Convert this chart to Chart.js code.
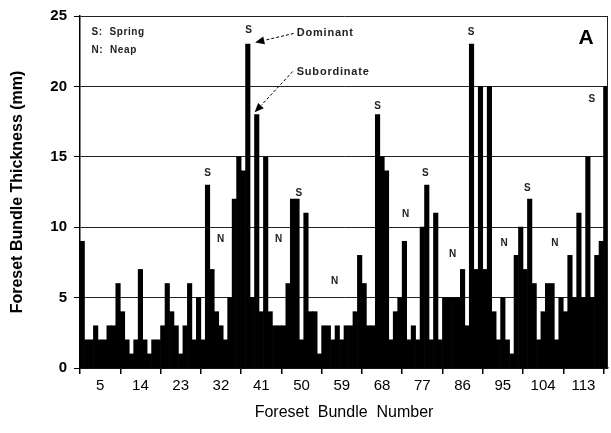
<!DOCTYPE html>
<html>
<head>
<meta charset="utf-8">
<script src="https://cdn.jsdelivr.net/npm/chart.js@4.4.1/dist/chart.umd.min.js"></script>
<style>
  html, body { margin: 0; padding: 0; background: #fff; }
</style>
</head>
<body>
<canvas id="bundleChart" width="611" height="433"></canvas>
<script>
// foreset bundle thickness (mm), bundles 1..118
const bundleNumbers = Array.from({ length: 118 }, (_, i) => i + 1);
const thickness = [
    9, 2, 2, 3, 2, 2, 3, 3, 6,
    4, 2, 1, 2, 7, 2, 1, 2, 2,
    3, 6, 4, 3, 1, 3, 6, 2, 5,
    2, 13, 7, 4, 3, 2, 5, 12, 15,
    14, 23, 5, 18, 4, 15, 4, 3, 3,
    3, 6, 12, 12, 2, 11, 4, 4, 1,
    3, 3, 2, 3, 2, 3, 3, 4, 8,
    6, 3, 3, 18, 15, 14, 2, 4, 5,
    9, 2, 3, 2, 10, 13, 2, 11, 2,
    5, 5, 5, 5, 7, 3, 23, 7, 20,
    7, 20, 4, 2, 5, 2, 1, 8, 10,
    7, 12, 6, 2, 4, 6, 6, 2, 5,
    4, 8, 5, 11, 5, 15, 5, 8, 9, 20
];
const xTickLabels = ['5', '14', '23', '32', '41', '50', '59', '68', '77', '86', '95', '104', '113'];
const yTickValues = [0, 5, 10, 15, 20, 25];

// tide labels, placed in data units (bar index, mm)
const springMarks = [[37.2, 23.97], [28.0, 13.83], [48.4, 12.41], [66.0, 18.58],
                     [76.7, 13.83], [86.9, 23.83], [99.5, 12.77], [113.9, 19.08]];
const neapMarks = [[30.9, 9.15], [43.9, 9.15], [56.4, 6.17], [72.25, 10.92],
                   [82.8, 8.09], [94.3, 8.87], [105.65, 8.87]];

const FONT = "'Liberation Sans', Arial, sans-serif";

const annotate = {
    id: 'annotate',
    afterDatasetsDraw(chart) {
        const { ctx, chartArea: a, scales: { x, y } } = chart;
        const px = v => x.getPixelForValue(v);
        const py = v => y.getPixelForValue(v);

        ctx.save();
        // right frame line
        ctx.strokeStyle = '#222';
        ctx.lineWidth = 1;
        ctx.beginPath();
        ctx.moveTo(Math.round(a.right) - 0.5, a.top);
        ctx.lineTo(Math.round(a.right) - 0.5, a.bottom);
        ctx.stroke();

        ctx.fillStyle = '#222';
        ctx.textAlign = 'center';
        ctx.textBaseline = 'middle';
        ctx.font = 'bold 10px ' + FONT;
        springMarks.forEach(([i, v]) => ctx.fillText('S', px(i), py(v)));
        neapMarks.forEach(([i, v]) => ctx.fillText('N', px(i), py(v)));

        ctx.textAlign = 'left';
        ctx.letterSpacing = '0.6px';
        ctx.fillText('S:  Spring', px(2.07), py(23.83));
        ctx.fillText('N:  Neap', px(2.07), py(22.55));
        ctx.font = 'bold 11px ' + FONT;
        ctx.letterSpacing = '0.8px';
        ctx.fillText('Dominant', px(47.93), py(23.76));
        ctx.fillText('Subordinate', px(47.93), py(20.99));
        ctx.letterSpacing = '0px';

        ctx.font = 'bold 21px ' + FONT;
        ctx.textAlign = 'center';
        ctx.fillStyle = '#000';
        ctx.fillText('A', px(112.6), py(23.4));

        const arrow = (x0, y0, x1, y1) => {
            const sx = px(x0), sy = py(y0), tx = px(x1), ty = py(y1);
            const ang = Math.atan2(ty - sy, tx - sx);
            const head = 10;
            ctx.strokeStyle = '#000';
            ctx.lineWidth = 1;
            ctx.setLineDash([3, 2]);
            ctx.beginPath();
            ctx.moveTo(sx, sy);
            ctx.lineTo(tx - Math.cos(ang) * head, ty - Math.sin(ang) * head);
            ctx.stroke();
            ctx.setLineDash([]);
            ctx.beginPath();
            ctx.moveTo(tx, ty);
            ctx.lineTo(tx - Math.cos(ang - 0.4) * head, ty - Math.sin(ang - 0.4) * head);
            ctx.lineTo(tx - Math.cos(ang + 0.4) * head, ty - Math.sin(ang + 0.4) * head);
            ctx.closePath();
            ctx.fill();
        };
        arrow(47.26, 23.76, 38.64, 23.12);
        arrow(47.04, 21.06, 38.54, 18.16);
        ctx.restore();
    }
};

new Chart(document.getElementById('bundleChart'), {
    type: 'bar',
    data: {
        labels: bundleNumbers,
        datasets: [{
            data: thickness,
            backgroundColor: '#000',
            borderWidth: 0,
            barPercentage: 1,
            categoryPercentage: 1
        }]
    },
    options: {
        responsive: false,
        animation: false,
        devicePixelRatio: 1,
        layout: { padding: { left: 0, right: 3, top: 15, bottom: 0 } },
        plugins: {
            legend: { display: false },
            tooltip: { enabled: false }
        },
        scales: {
            x: {
                offset: true,
                ticks: {
                    autoSkip: false,
                    maxRotation: 0,
                    minRotation: 0,
                    padding: 3,
                    color: '#000',
                    font: { family: FONT, size: 15 },
                    callback(value, index) {
                        const lab = String(bundleNumbers[index]);
                        return xTickLabels.includes(lab) ? lab : '';
                    }
                },
                grid: {
                    offset: true,
                    drawOnChartArea: false,
                    drawTicks: true,
                    tickLength: 6,
                    lineWidth: 1.5,
                    tickColor: ctx => (ctx.index % 9 === 0 && ctx.index < bundleNumbers.length) ? '#000' : 'rgba(0,0,0,0)'
                },
                border: { color: '#000', width: 1.5 },
                title: {
                    display: true,
                    text: 'Foreset  Bundle  Number',
                    color: '#000',
                    font: { family: FONT, size: 16 },
                    padding: { top: 4, bottom: 11 }
                },
                afterFit(scale) { scale.height = 65; }
            },
            y: {
                min: 0,
                max: 25,
                afterBuildTicks(scale) { scale.ticks = yTickValues.map(v => ({ value: v })); },
                ticks: {
                    color: '#000',
                    padding: 7,
                    font: { family: FONT, size: 15, weight: 'bold' }
                },
                grid: { color: '#222', lineWidth: 1, tickLength: 6, tickColor: '#000' },
                border: { color: '#000', width: 1.5 },
                title: {
                    display: true,
                    text: 'Foreset Bundle Thickness (mm)',
                    color: '#000',
                    font: { family: FONT, size: 16, weight: 'bold' },
                    padding: { top: 8, bottom: 0 }
                },
                afterFit(scale) { scale.width = 80; }
            }
        }
    },
    plugins: [annotate]
});
</script>
</body>
</html>
